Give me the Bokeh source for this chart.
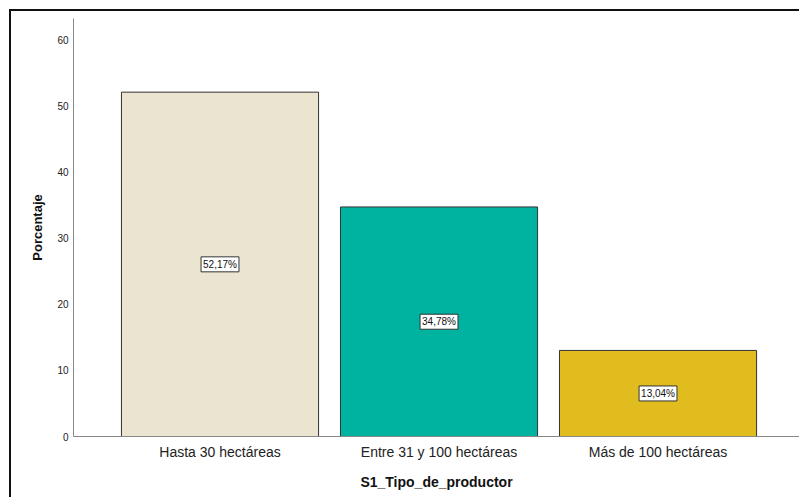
from bokeh.plotting import figure
from bokeh.models import Range1d, FixedTicker, Label, ColumnDataSource, InlineStyleSheet
from bokeh.embed import file_html
from bokeh.resources import INLINE

categories = ["Hasta 30 hectáreas", "Entre 31 y 100 hectáreas", "Más de 100 hectáreas"]
values = [52.17, 34.78, 13.04]
value_labels = ["52,17%", "34,78%", "13,04%"]
colors = ["#EAE4D0", "#00B2A0", "#E1BC1F"]
y_ticks = [0, 10, 20, 30, 40, 50, 60]

xs = [i + 1 for i in range(len(categories))]
source = ColumnDataSource(dict(x=xs, top=values, color=colors))

frame_css = InlineStyleSheet(css="""
:host::after {
  content: "";
  position: absolute;
  left: 9px;
  top: 9px;
  right: 0;
  bottom: 0;
  border-left: 2px solid #111111;
  border-top: 2px solid #111111;
  pointer-events: none;
  z-index: 10;
}
""")

p = figure(width=799, height=497, output_backend="svg", toolbar_location=None,
           x_range=Range1d(0.331, 3.646), y_range=Range1d(0, 63.33),
           min_border_left=73, min_border_top=18, min_border_right=0, min_border_bottom=61,
           stylesheets=[frame_css])

p.vbar(x="x", top="top", width=0.9, bottom=0, fill_color="color",
       line_color="#333333", line_width=1, source=source)

for xi, v, t in zip(xs, values, value_labels):
    p.add_layout(Label(x=xi, y=v / 2, text=t, text_align="center", text_baseline="middle",
                       text_font="Liberation Sans", text_font_size="10px", text_color="#111111",
                       background_fill_color="white", border_line_color="#333333",
                       border_line_width=1, padding=2))

p.grid.visible = False
p.outline_line_color = None

p.xaxis.ticker = FixedTicker(ticks=xs)
p.xaxis.major_label_overrides = {x: c for x, c in zip(xs, categories)}
p.yaxis.ticker = FixedTicker(ticks=y_ticks)

for ax in (p.xaxis, p.yaxis):
    ax.axis_line_color = "#888888"
    ax.major_tick_line_color = None
    ax.minor_tick_line_color = None
    ax.major_tick_out = 0
    ax.major_tick_in = 0
    ax.minor_tick_out = 0
    ax.major_label_text_font = "Liberation Sans"
    ax.axis_label_text_font = "Liberation Sans"
    ax.axis_label_text_font_style = "bold"
    ax.axis_label_text_color = "#111111"

p.xaxis.axis_label = "S1_Tipo_de_productor"
p.xaxis.major_label_text_font_size = "14px"
p.xaxis.major_label_text_color = "#222222"
p.xaxis.major_label_standoff = 7
p.xaxis.axis_label_text_font_size = "14px"
p.xaxis.axis_label_standoff = 11

p.yaxis.axis_label = "Porcentaje"
p.yaxis.major_label_text_font_size = "10px"
p.yaxis.major_label_text_color = "#222222"
p.yaxis.major_label_standoff = 5
p.yaxis.axis_label_text_font_size = "13px"
p.yaxis.axis_label_standoff = 9

open("out.html", "w").write(file_html(p, INLINE))
